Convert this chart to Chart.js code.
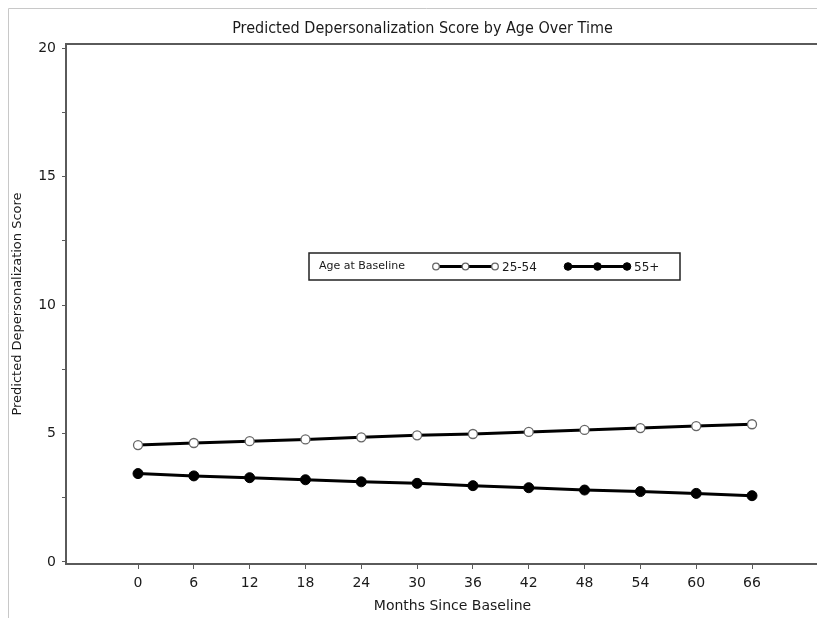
<!DOCTYPE html>
<html>
<head>
<meta charset="utf-8">
<script src="https://cdn.jsdelivr.net/npm/chart.js@4.4.0/dist/chart.umd.min.js"></script>
<style>
  html, body { margin: 0; padding: 0; background: #fff; overflow: hidden; }
  #wrap { position: relative; width: 817px; height: 618px; overflow: hidden; }
  #c { position: absolute; left: 0; top: 0; }
</style>
</head>
<body>
<div id="wrap"><canvas id="c" width="845" height="618"></canvas></div>
<script>
// ---- Data ----
const months = [0, 6, 12, 18, 24, 30, 36, 42, 48, 54, 60, 66];
const age2554 = [4.55, 4.63, 4.70, 4.77, 4.85, 4.93, 4.98, 5.06, 5.14, 5.21, 5.29, 5.36];
const age55plus = [3.44, 3.35, 3.28, 3.20, 3.12, 3.06, 2.97, 2.89, 2.80, 2.74, 2.67, 2.58];
const seriesLabels = ['25-54', '55+'];
const legendTitle = 'Age at Baseline';
const xTickValues = [0, 6, 12, 18, 24, 30, 36, 42, 48, 54, 60, 66];
const yTickValues = [0, 2.5, 5, 7.5, 10, 12.5, 15, 17.5, 20];
const yLabelled = [0, 5, 10, 15, 20];
const chartTitle = 'Predicted Depersonalization Score by Age Over Time';
const xTitle = 'Months Since Baseline';
const yTitle = 'Predicted Depersonalization Score';

const FONT = 'DejaVu Sans';
const TITLE_FONT = '"DejaVu Sans Condensed", "DejaVu Sans"';
const TEXT = '#1a1a1a';
const AXIS = '#5a5a5a';

const toPts = (ys) => months.map((m, i) => ({ x: m, y: ys[i] }));

const framePlugin = {
  id: 'frame',
  beforeDraw(chart) {
    const ctx = chart.ctx;
    ctx.save();
    ctx.strokeStyle = '#c8c8c8';
    ctx.lineWidth = 1;
    ctx.beginPath();
    ctx.moveTo(8.5, 618);
    ctx.lineTo(8.5, 8.5);
    ctx.lineTo(chart.width, 8.5);
    ctx.stroke();
    const a = chart.chartArea;
    ctx.strokeStyle = AXIS;
    ctx.lineWidth = 2;
    ctx.beginPath();
    ctx.moveTo(a.left, a.top);
    ctx.lineTo(a.right, a.top);
    ctx.stroke();
    ctx.restore();
  }
};

const legendPlugin = {
  id: 'customLegend',
  afterDraw(chart) {
    const ctx = chart.ctx;
    const ds = chart.data.datasets;
    const x0 = 309, y0 = 253, w = 371, h = 27;
    const cy = y0 + h / 2;
    ctx.save();
    ctx.fillStyle = '#fff';
    ctx.fillRect(x0, y0, w, h);
    ctx.strokeStyle = '#222';
    ctx.lineWidth = 1.5;
    ctx.strokeRect(x0, y0, w, h);
    ctx.font = '11px "' + FONT + '"';
    ctx.fillStyle = TEXT;
    ctx.textBaseline = 'middle';
    ctx.textAlign = 'left';
    ctx.fillText(legendTitle, x0 + 10, cy);
    const starts = [434, 566];
    ds.forEach((d, i) => {
      const sx = starts[i];
      ctx.strokeStyle = d.borderColor;
      ctx.lineWidth = 3;
      ctx.beginPath();
      ctx.moveTo(sx, cy);
      ctx.lineTo(sx + 61, cy);
      ctx.stroke();
      for (let k = 0; k < 3; k++) {
        const mx = sx + 2 + k * 29.5;
        ctx.beginPath();
        ctx.arc(mx, cy, d.pointRadius - 1.2, 0, Math.PI * 2);
        ctx.fillStyle = d.pointBackgroundColor;
        ctx.fill();
        ctx.lineWidth = d.pointBorderWidth;
        ctx.strokeStyle = d.pointBorderColor;
        ctx.stroke();
      }
      ctx.fillStyle = TEXT;
      ctx.font = '12px "' + FONT + '"';
      ctx.fillText(d.label, sx + 68, cy + 1);
    });
    ctx.restore();
  }
};

new Chart(document.getElementById('c'), {
  type: 'line',
  data: {
    datasets: [
      {
        label: seriesLabels[0],
        data: toPts(age2554),
        borderColor: '#000',
        borderWidth: 3,
        pointRadius: 4.5,
        pointBackgroundColor: '#fff',
        pointBorderColor: '#666',
        pointBorderWidth: 1.3,
        tension: 0
      },
      {
        label: seriesLabels[1],
        data: toPts(age55plus),
        borderColor: '#000',
        borderWidth: 3,
        pointRadius: 5,
        pointBackgroundColor: '#000',
        pointBorderColor: '#000',
        pointBorderWidth: 1,
        tension: 0
      }
    ]
  },
  options: {
    responsive: false,
    animation: false,
    devicePixelRatio: 1,
    layout: { padding: { left: 0, right: 0, top: 0, bottom: 0 } },
    plugins: {
      legend: { display: false },
      tooltip: { enabled: false },
      title: {
        display: true,
        text: chartTitle,
        color: TEXT,
        font: { family: TITLE_FONT, size: 16, weight: 'normal', lineHeight: 1.2 },
        padding: { top: 19, bottom: 5.8 }
      }
    },
    scales: {
      x: {
        type: 'linear',
        min: -7.74,
        max: 75.35,
        afterBuildTicks: (s) => { s.ticks = xTickValues.map(v => ({ value: v })); },
        afterFit: (s) => { s.height = 54; },
        ticks: {
          color: TEXT,
          font: { family: FONT, size: 14 },
          padding: 6,
          maxRotation: 0,
          autoSkip: false,
          callback: (v) => String(v)
        },
        grid: { drawOnChartArea: false, drawTicks: true, tickLength: 5, color: AXIS, lineWidth: 1 },
        border: { display: true, color: AXIS, width: 2 },
        title: {
          display: true,
          text: xTitle,
          color: TEXT,
          font: { family: FONT, size: 14 },
          padding: { top: 0, bottom: 3 }
        }
      },
      y: {
        type: 'linear',
        min: -0.078,
        max: 20.156,
        afterBuildTicks: (s) => { s.ticks = yTickValues.map(v => ({ value: v })); },
        afterFit: (s) => { s.width = 66; },
        ticks: {
          color: TEXT,
          font: { family: FONT, size: 14 },
          padding: 6,
          autoSkip: false,
          callback: (v) => (yLabelled.includes(v) ? String(v) : '')
        },
        grid: { drawOnChartArea: false, drawTicks: true, tickLength: 4, color: AXIS, lineWidth: 1 },
        border: { display: true, color: AXIS, width: 2 },
        title: {
          display: true,
          text: yTitle,
          color: TEXT,
          font: { family: FONT, size: 13 },
          padding: { top: 10, bottom: 0 }
        }
      }
    }
  },
  plugins: [framePlugin, legendPlugin]
});
</script>
</body>
</html>
